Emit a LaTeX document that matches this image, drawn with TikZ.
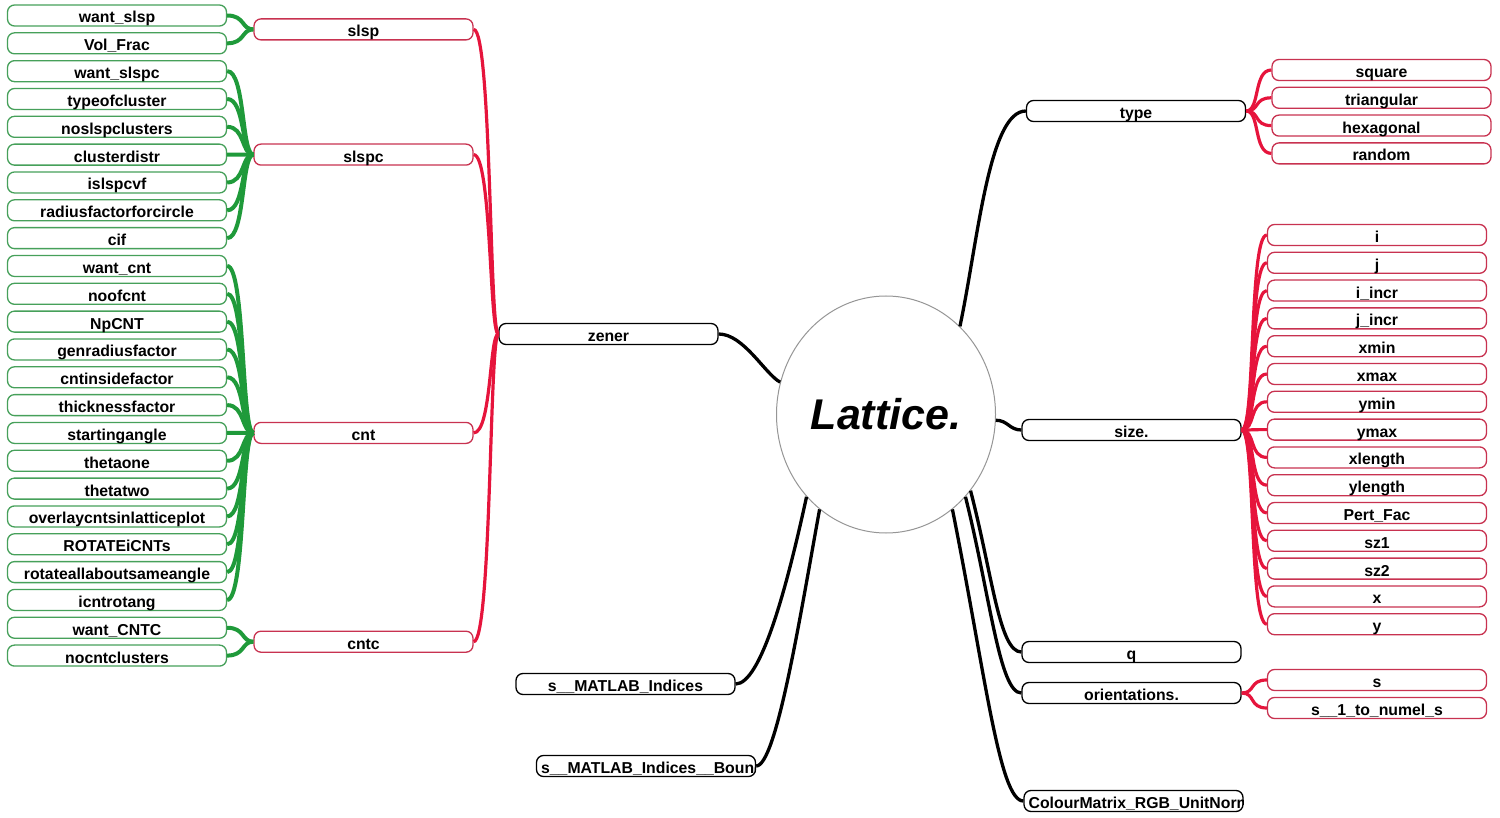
\documentclass[tikz,border=0pt]{standalone}
\usepackage{fontspec}
\setmainfont{Liberation Sans}
\usetikzlibrary{shapes.geometric}
\definecolor{gcol}{RGB}{31,154,58}
\definecolor{gbord}{RGB}{70,160,90}
\definecolor{rcol}{RGB}{230,20,60}
\definecolor{rbord}{RGB}{200,50,80}
\definecolor{ecol}{RGB}{150,150,150}
\newcommand\bxfont{\fontsize{15.8}{18}\selectfont\bfseries}
\tikzset{
  box/.style={draw, fill=white, rounded corners=7pt, minimum width=219pt, minimum height=21pt,
    inner sep=0pt, text height=15pt, text depth=0pt, font=\bxfont, line width=1.3pt},
  gbox/.style={box, draw=gbord},
  rbox/.style={box, draw=rbord},
  bbox/.style={box, draw=black},
  cliptext/.style={path picture={\node[anchor=west, inner sep=0pt, text height=15pt, text depth=0pt, font=\bxfont]
      at ([xshift=4pt]path picture bounding box.west) {#1};}},
  gline/.style={draw=gcol, line width=4pt},
  rline/.style={draw=rcol, line width=3.2pt},
  kline/.style={draw=black, line width=3.3pt},
}
\begin{document}
\begin{tikzpicture}[x=1pt,y=-1pt]
\useasboundingbox (0,0) rectangle (1500,818);
% central node
\node[ellipse, draw=ecol, line width=1pt, fill=white, minimum width=219pt, minimum height=237pt, inner sep=0pt,
  font=\fontsize{43}{48}\selectfont\bfseries\itshape] (lat) at (886,414.5) {Lattice.};
% left green column
\foreach \t [count=\k from 0] in {want\_slsp, Vol\_Frac, want\_slspc, typeofcluster, noslspclusters,
  clusterdistr, islspcvf, radiusfactorforcircle, cif, want\_cnt, noofcnt, NpCNT, genradiusfactor,
  cntinsidefactor, thicknessfactor, startingangle, thetaone, thetatwo, overlaycntsinlatticeplot,
  ROTATEiCNTs, rotateallaboutsameangle, icntrotang, want\_CNTC, nocntclusters}
  {\node[gbox] (L\k) at (117,{15.5+27.83*\k}) {\t};}
% middle red column
\node[rbox] (slsp) at (363.5,29.4) {slsp};
\node[rbox] (slspc) at (363.5,154.6) {slspc};
\node[rbox] (cnt) at (363.5,432.9) {cnt};
\node[rbox] (cntc) at (363.5,641.7) {cntc};
% black first level
\node[bbox] (zener) at (608.5,334) {zener};
\node[bbox] (type) at (1136,111) {type};
\node[bbox] (size) at (1131.5,430) {size.};
\node[bbox] (q) at (1131.5,652) {q};
\node[bbox] (orient) at (1131.5,693) {orientations.};
\node[bbox] (smi) at (625.5,684) {s\_\_MATLAB\_Indices};
\node[bbox, cliptext={s\_\_MATLAB\_Indices\_\_Boundary}] (smib) at (646,766) {};
\node[bbox, cliptext={ColourMatrix\_RGB\_UnitNorm}] (cm) at (1133.5,801) {};
% type children
\foreach \t [count=\k from 0] in {square, triangular, hexagonal, random}
  {\node[rbox] (T\k) at (1381.5,{70+27.8*\k}) {\t};}
% size children
\foreach \t [count=\k from 0] in {i, j, i\_incr, j\_incr, xmin, xmax, ymin, ymax, xlength, ylength,
  Pert\_Fac, sz1, sz2, x, y}
  {\node[rbox] (S\k) at (1377,{235+27.8*\k}) {\t};}
% orientations children
\node[rbox] (O0) at (1377,680) {s};
\node[rbox] (O1) at (1377,708) {s\_\_1\_to\_numel\_s};
% green connectors
\foreach \k in {0,1} \draw[gline] (L\k.east) .. controls +(18,0) and +(-12,0) .. (slsp.west);
\foreach \k in {2,...,8} \draw[gline] (L\k.east) .. controls +(18,0) and +(-12,0) .. (slspc.west);
\foreach \k in {9,...,21} \draw[gline] (L\k.east) .. controls +(18,0) and +(-12,0) .. (cnt.west);
\foreach \k in {22,23} \draw[gline] (L\k.east) .. controls +(18,0) and +(-12,0) .. (cntc.west);
% red connectors to zener
\foreach \n in {slsp,slspc,cnt,cntc} \draw[rline] (\n.east) .. controls +(18,0) and +(-9,0) .. (zener.west);
% red right connectors
\foreach \k in {0,...,3} \draw[rline] (type.east) .. controls +(14,0) and +(-18,0) .. (T\k.west);
\foreach \k in {0,...,14} \draw[rline] (size.east) .. controls +(14,0) and +(-18,0) .. (S\k.west);
\foreach \k in {0,1} \draw[rline] (orient.east) .. controls +(14,0) and +(-18,0) .. (O\k.west);
% black connectors from the centre
\draw[kline] (zener.east) .. controls +(25,0) and +(-15,-8) .. (lat.163.6);
\draw[kline] (lat.50.4) .. controls +(18,-85) and +(-37,0) .. (type.west);
\draw[kline] (lat.-3.9) .. controls +(12,0) and +(-12,0) .. (size.west);
\draw[kline] (lat.-42.8) .. controls +(22,85) and +(-22,0) .. (q.west);
\draw[kline] (lat.-46.6) .. controls +(25,100) and +(-22,0) .. (orient.west);
\draw[kline] (lat.-55.9) .. controls +(33,165) and +(-24,0) .. (cm.west);
\draw[kline] (lat.-134.1) .. controls +(-20,92) and +(25,0) .. (smi.east);
\draw[kline] (lat.-125.5) .. controls +(-20,110) and +(20,0) .. (smib.east);
\end{tikzpicture}
\end{document}
